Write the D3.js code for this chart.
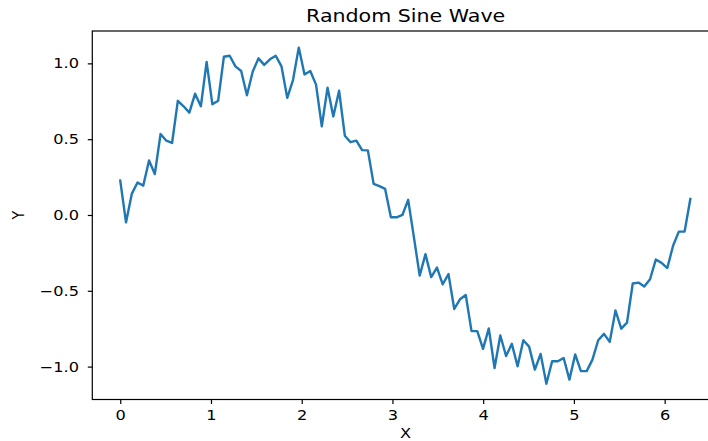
<!DOCTYPE html>
<html>
<head>
<meta charset="utf-8">
<script src="https://cdn.jsdelivr.net/npm/d3@7"></script>
<style>
  body { margin: 0; background: #fff; }
  text { font-family: "DejaVu Sans", sans-serif; fill: #000; }
</style>
</head>
<body>
<div id="chart"></div>
<script>
// noisy sine values
var yValues = [
  0.227, -0.049, 0.139, 0.214, 0.194, 0.36, 0.27, 0.534, 0.49, 0.475,
  0.753, 0.717, 0.675, 0.80, 0.717, 1.01, 0.73, 0.753, 1.044, 1.05,
  0.98, 0.95, 0.79, 0.945, 1.033, 0.99, 1.027, 1.05, 0.98, 0.773,
  0.89, 1.104, 0.927, 0.95, 0.86, 0.585, 0.84, 0.65, 0.82, 0.523,
  0.48, 0.49, 0.428, 0.426, 0.205, 0.19, 0.172, -0.015, -0.015, 0.0,
  0.10, -0.148, -0.40, -0.258, -0.41, -0.347, -0.457, -0.39, -0.62, -0.556,
  -0.528, -0.766, -0.766, -0.883, -0.748, -1.009, -0.795, -0.93, -0.85, -0.998,
  -0.826, -0.868, -1.02, -0.916, -1.113, -0.965, -0.965, -0.943, -1.086, -0.92,
  -1.03, -1.03, -0.954, -0.826, -0.784, -0.837, -0.63, -0.75, -0.71, -0.452,
  -0.446, -0.472, -0.424, -0.294, -0.316, -0.35, -0.203, -0.11, -0.11, 0.106
];
// x grid: evenly spaced from 0 to 2*pi
var xStart = 0;
var xEnd = 2 * Math.PI;
var xTicks = [0, 1, 2, 3, 4, 5, 6];
var yTicks = [-1.0, -0.5, 0.0, 0.5, 1.0];

var svgWidth = 708;
var svgHeight = 441;
var stretch = 1.14; // text in the picture is a bit wider than tall

var plotLeft = 92.3, plotRight = 719, plotTop = 31, plotBottom = 399.5;

var data = yValues.map(function(v, i) {
  return { x: xStart + (xEnd - xStart) * i / (yValues.length - 1), y: v };
});

var svg = d3.select("#chart")
  .append("svg")
  .attr("width", svgWidth)
  .attr("height", svgHeight);

var xScale = d3.scaleLinear()
  .domain([-0.308, 6.599])
  .range([plotLeft, plotRight]);

var yScale = d3.scaleLinear()
  .domain([-1.217, 1.2135])
  .range([plotBottom, plotTop]);

// line
var line = d3.line()
  .x(d => xScale(d.x))
  .y(d => yScale(d.y));

svg.append("path")
  .datum(data)
  .attr("fill", "none")
  .attr("stroke", "#1f77b4")
  .attr("stroke-width", 2.4)
  .attr("stroke-linejoin", "round")
  .attr("stroke-linecap", "square")
  .attr("d", line);

// frame
svg.append("rect")
  .attr("x", plotLeft)
  .attr("y", plotTop)
  .attr("width", plotRight - plotLeft)
  .attr("height", plotBottom - plotTop)
  .attr("fill", "none")
  .attr("stroke", "#000")
  .attr("stroke-width", 1.2);

// x axis
var xAxis = svg.append("g")
  .attr("transform", `translate(0, ${plotBottom})`)
  .call(d3.axisBottom(xScale).tickValues(xTicks).tickFormat(d3.format("d"))
    .tickSize(4.5).tickPadding(6.1).tickSizeOuter(0));

xAxis.select(".domain").remove();
xAxis.selectAll("line").attr("stroke", "#000").attr("stroke-width", 1.2);
xAxis.selectAll("text")
  .attr("fill", "#000")
  .style("font-size", "14.2px")
  .attr("transform", `scale(${stretch},1)`);

// y axis
var yAxis = svg.append("g")
  .attr("transform", `translate(${plotLeft}, 0)`)
  .call(d3.axisLeft(yScale).tickValues(yTicks).tickFormat(d3.format(".1f"))
    .tickSize(4.5).tickSizeOuter(0));

yAxis.select(".domain").remove();
yAxis.selectAll("line").attr("stroke", "#000").attr("stroke-width", 1.2);
yAxis.selectAll("text")
  .attr("fill", "#000")
  .attr("x", -13.3 / stretch)
  .style("font-size", "14.2px")
  .attr("transform", `scale(${stretch},1)`);

// title and labels
function addText(x, y, txt, size, sx, rotate) {
  var t = svg.append("text")
    .attr("text-anchor", "middle")
    .style("font-size", size + "px")
    .text(txt);
  if (rotate) {
    t.attr("transform", `translate(${x},${y}) rotate(-90) scale(1,${sx})`);
  } else {
    t.attr("transform", `translate(${x},${y}) scale(${sx},1)`);
  }
  return t;
}

addText((plotLeft + plotRight) / 2, 22, "Random Sine Wave", 17.3, 1.19, false);
addText((plotLeft + plotRight) / 2, 438, "X", 14.2, stretch, false);
addText(23.5, (plotTop + plotBottom) / 2, "Y", 14.2, stretch, true);
</script>
</body>
</html>
